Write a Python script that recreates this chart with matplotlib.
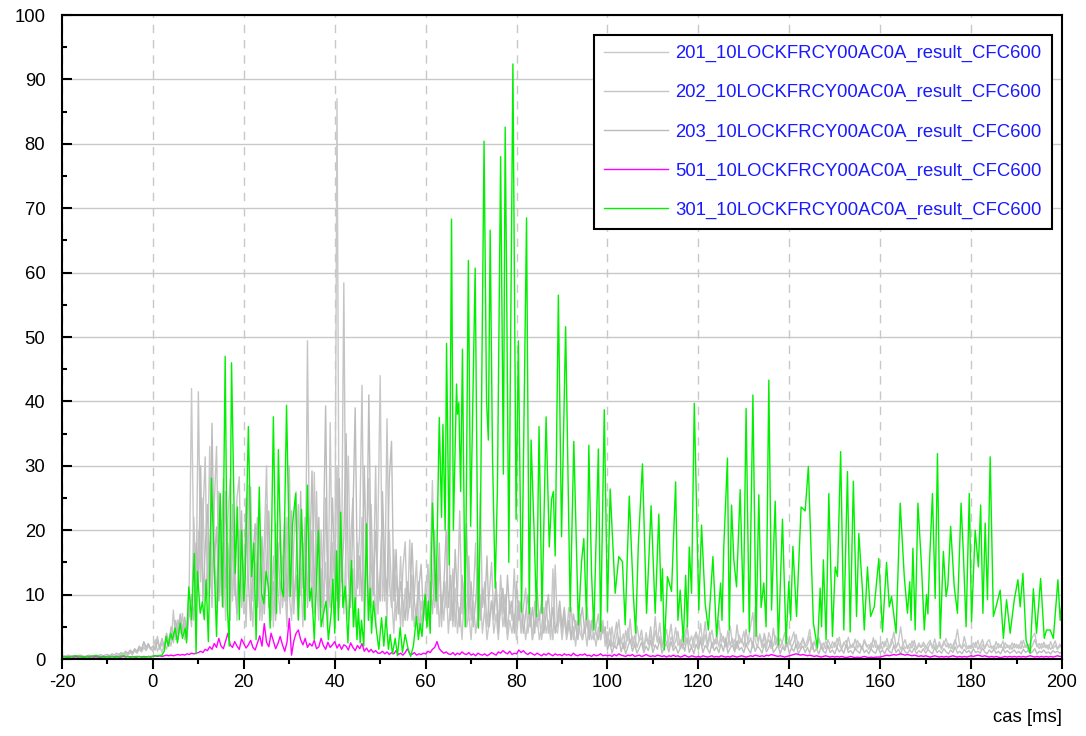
import numpy as np
import matplotlib
matplotlib.use("Agg")
import matplotlib.pyplot as plt
from matplotlib.ticker import MultipleLocator

plt.rcParams['font.family'] = ['Liberation Sans', 'DejaVu Sans']
plt.rcParams['axes.unicode_minus'] = False

# Sampled channels: start time and sampling step [ms]
T0, DT = -20.0, 0.5

ch201 = (
    [0.3,0.4,0.3,0.3,0.4,0.3,0.4,0.3,0.3,0.4,0.3,0.4,0.3,0.3,0.4,0.3,0.4,0.3,0.4,0.3] +
    [0.4,0.3,0.5,0.4,0.6,0.5,0.8,0.6,1.0,0.7,1.2,0.8,1.5,1.0,1.8,1.2,2.5,1.4,2.0,1.5] +
    [1.5,3.0,1.2,2.0,1.0,2.5,1.5,3.0,2.0,7.6,3.0,6.1,4.0,7.1,3.0,5.0,12,42,15,8] +
    [20,12,25,9,14,33,12,18,8,26,10,18,6,22,28,9,16,6,20,12] +
    [7,18,27,10,5,15,9,20,6,12,24,8,15,5,21,11,7,16,9,22] +
    [10,6,18,26,8,14,5,17,10,22,8,29,12,6,20,9,15,5,36.7,10] +
    [6,87,10,20,7,18,31.5,9,14,5,18,10,22,6,16,28,8,14,5,20] +
    [44,9,15,6,20,10,4,13,8,15.9,5,11,7,18.5,6,10,15.3,4,9,6] +
    [12,5,14.7,27.7,8,13,5,10,6,12,4,9,5,11,4,8,3,10,5,7] +
    [3,9,4,7,10,4,8,3,6,9,4,7,3,10,5,8,3,6,4,7] +
    [3,9,5,7,3,6,8,3,5,7,3,5,8,4,6,3,14,5,4,7] +
    [3,6,4,8,3,5,2,6,4,3,5,2,6,3,4,2,5,3,6,2] +
    [4.2,2.1,5.0,1.8,3.6,6.1,2.4,3.9,1.7,4.8,2.6,3.5,1.9,5.2,2.8,3.3,1.6,4.1,2.2,3.8] +
    [1.9,4.4,2.7,5.6,2.0,3.1,4.6,1.8,3.4,2.5,4.9,2.1,3.0,1.6,3.9,5.3,2.3,3.6,1.8,4.2] +
    [2.7,5.5,2.0,3.8,1.7,3.2,4.5,2.2,3.6,1.9,4.0,2.6,3.3,1.8,5.1,2.4,3.0,1.6,3.7,2.5] +
    [4.3,1.9,3.1,5.2,7.2,2.8,1.8,3.9,2.5,3.4,1.7,4.1,2.9,2.0,3.6,1.8,3.2,2.4,1.6,3.5] +
    [2.2,3.0,4.2,1.8,2.7,1.5,3.3,2.1,2.9,4.6,1.9,2.5,1.6,3.1,2.3,1.4,2.8,2.0,1.6,2.7] +
    [1.8,3.2,2.2,1.5,2.6,1.9,3.4,1.7,2.4,1.4,2.9,2.0,1.6,3.0,2.2,1.5,2.5,1.8,2.9,1.6] +
    [2.3,1.5,2.7,2.0,1.6,3.1,2.2,1.7,2.6,5.0,2.4,1.6,2.1,1.5,2.8,2.0,1.6,2.5,1.8,2.2] +
    [1.5,2.4,2.9,1.6,2.2,1.5,2.7,1.8,2.3,3.2,1.7,2.4,1.5,2.6,4.6,2.0,1.6,2.3,1.5,2.1] +
    [1.6,2.5,1.8,2.9,1.5,2.2,1.7,2.6,3.0,1.6,2.1,1.5,2.4,1.8,2.8,1.6,2.2,1.5,2.5,1.7] +
    [2.3,1.6,2.8,1.7,2.2,1.5,2.5,3.4,4.0,2.1,1.6,2.4,1.8,2.2,1.5,2.7,1.6,2.1,1.5,2.3] +
    [1.8]
)

ch202 = (
    [0.2,0.3,0.2,0.3,0.2,0.3,0.2,0.2,0.3,0.2,0.3,0.2,0.3,0.2,0.3,0.3,0.2,0.3,0.2,0.3] +
    [0.3,0.2,0.4,0.3,0.5,0.4,0.6,0.5,0.8,0.6,1.0,0.7,1.3,0.9,1.5,1.1,1.8,1.3,2.2,1.6] +
    [1.2,2.0,3.5,1.5,2.5,1.5,3.0,2.0,4.0,2.5,5.0,3.0,6.0,4.0,5.5,3.0,8,5,22,10] +
    [41.5,14,22,31.4,10,18,8,24,33,12,21.6,8,26,14,6,19,10,25,28.3,8] +
    [14,5,19,26.7,9,17,22,6,12,18,30,10,6,16,9,14,20,8,12,5] +
    [30,12,7,15,24,10,18,6,49.4,12,20,7,26,9,14,5,25,12,8,18] +
    [11,30,8,14,58.4,10,6,18,25,8,13,20,42.5,9,15,6,24,10,30,7] +
    [14,22,9,37.3,12,8,17,6,11,5,14,18.2,6,9,13,5,8,12,5,9] +
    [6,14.7,8,12,20,7,15,5,12,8,23,6,14,5,10,23,7,12,5,16] +
    [6,10,18,5,25.8,8,12,5,10,15,6,11,5,13,7,10,4,9,6,14] +
    [5,9,4,8,11,4,7,3,9,5,7,3,6,9,4,6,3,14.6,5,8] +
    [4,7,3,5,8,3,6,4,7,3,5,8,4,6,3,5,7,3,5,4] +
    [2.5,4.8,1.9,3.3,5.7,2.2,3.0,1.6,4.4,2.8,6.2,2.0,3.7,1.8,2.9,4.5,1.7,3.2,2.4,5.0] +
    [2.1,6.6,2.6,3.5,1.7,4.0,2.3,3.1,5.4,1.9,2.8,4.3,1.6,3.6,2.2,5.1,2.5,1.8,3.3,4.1] +
    [1.8,3.4,2.5,5.8,2.0,4.2,1.7,3.0,2.3,6.0,2.6,3.5,1.9,4.4,2.1,3.2,1.6,5.3,2.4,3.1] +
    [1.9,4.6,2.2,3.3,1.7,8.0,2.8,3.6,1.8,4.0,2.5,3.0,1.6,4.8,2.2,3.3,1.8,2.7,4.1,1.9] +
    [3.2,1.7,2.6,3.8,1.6,2.4,3.1,1.8,2.2,3.5,1.5,2.8,2.0,3.3,1.7,2.5,1.6,3.0,2.1,1.7] +
    [2.6,1.8,3.4,1.6,2.3,2.9,1.5,2.2,1.8,3.1,1.7,2.4,1.5,2.8,1.9,2.2,1.6,3.3,1.8,2.1] +
    [1.6,2.7,1.9,3.2,1.7,2.3,4.2,1.8,2.6,1.5,2.2,3.0,1.6,2.4,1.7,2.9,1.5,2.1,1.8,2.6] +
    [2.0,1.6,2.5,1.8,3.1,1.7,2.2,1.5,2.8,1.9,2.4,1.6,2.1,3.0,1.7,2.3,1.6,3.5,2.0,1.6] +
    [2.2,1.7,2.6,1.5,2.1,3.0,1.6,2.4,1.8,2.0,1.5,2.7,1.7,2.2,1.6,2.5,1.8,2.1,1.5,2.4] +
    [1.7,2.2,1.6,2.9,1.8,2.3,1.5,2.1,3.0,1.9,2.4,1.6,2.6,1.7,2.2,1.5,2.0,2.8,1.6,1.9] +
    [2.1]
)

ch203 = (
    [0.5,0.4,0.5,0.6,0.4,0.5,0.4,0.5,0.6,0.5,0.4,0.5,0.6,0.4,0.5,0.6,0.5,0.7,0.5,0.6] +
    [0.7,0.5,0.8,0.6,0.9,0.7,1.0,0.8,1.2,0.9,1.4,1.0,1.6,1.2,2.0,1.5,2.7,1.8,2.4,1.6] +
    [2.0,1.4,2.8,1.8,3.2,2.0,4.0,2.5,5.0,3.5,6.0,4.0,7.0,4.5,6.5,4.0,7.5,10,6,18] +
    [12,30,9,17,24,11,36.6,15,20.5,9,16,28,11,18,10,24,12,7,16,23] +
    [10,25,12,6,16,21,8,13,19,7,14,23,9,12,6,18,10,14,22,9] +
    [15,23,9,13,6,26,11,22,8,15,29.2,11,17,22,8,18,39.3,9,13,25] +
    [14,9,28,12,19,35,13,8,22,39,11,16,9,30,13,41,15,10,20,12] +
    [9,26,14,10,28,33.8,9,17,7,12,9,6,12,8,18,9,6,11,14.7,7] +
    [10,6,12,7,14,9,18,7,11,20,8,13,6,17,9,5,13,8,21,7] +
    [12,5,9,14,6,11,8,16,5,9,7,12,4,8,11,5,13,7,9,4] +
    [12,6,9,4,7,10,5,8,4,11,6,9,4,7,10,5,8,4,6,9] +
    [5,8,4,6,3,7,5,3,6,8,4,6,3,5,7,4,3,6,4,5] +
    [1.4,2.8,0.9,2.2,1.6,3.4,1.1,2.5,0.8,1.9,3.0,1.2,2.3,0.9,1.7,2.6,1.0,2.0,1.3,2.9] +
    [1.0,2.2,1.5,3.1,0.9,1.8,2.4,1.1,2.7,1.3,2.0,0.9,1.6,2.5,1.2,3.3,1.0,1.9,0.8,2.3] +
    [1.4,2.9,1.0,2.1,1.6,0.9,2.6,1.3,1.9,1.0,2.4,1.2,3.0,0.9,1.7,2.2,1.1,2.8,1.4,1.8] +
    [1.0,2.3,1.5,0.9,2.7,1.2,2.0,1.6,0.9,2.4,1.1,1.8,2.9,1.0,1.5,2.2,0.8,1.9,1.3,2.6] +
    [0.9,1.7,1.2,2.3,0.8,1.5,2.0,1.0,1.8,0.9,2.5,1.1,1.6,0.8,1.9,1.2,0.9,2.1,1.0,1.4] +
    [0.8,1.8,1.1,1.5,0.9,2.2,1.0,1.3,0.8,1.7,1.2,0.9,2.0,1.0,1.4,0.8,1.6,1.1,0.9,1.9] +
    [1.0,1.4,0.8,1.7,1.2,0.9,2.1,1.0,1.5,0.8,1.8,1.1,0.9,1.4,1.0,1.7,0.8,1.3,1.0,1.6] +
    [0.9,1.5,1.1,0.8,1.8,1.0,1.3,0.9,1.6,1.1,0.8,1.4,1.0,1.9,0.9,1.2,0.8,1.5,1.0,1.3] +
    [0.8,1.6,1.0,1.2,0.9,1.7,1.1,0.8,1.4,1.0,1.5,0.9,1.2,0.8,1.6,1.0,1.3,0.9,1.1,1.4] +
    [0.9,1.2,0.8,1.5,1.0,1.3,0.9,1.1,1.6,0.8,1.2,1.0,1.4,0.9,1.1,0.8,1.3,1.0,1.2,0.9] +
    [1.1]
)

ch501 = (
    [0.3,0.4,0.3,0.3,0.4,0.3,0.4,0.3,0.4,0.3,0.3,0.4,0.3,0.4,0.3,0.4,0.3,0.3,0.4,0.3] +
    [0.4,0.3,0.4,0.3,0.4,0.3,0.3,0.4,0.3,0.4,0.3,0.4,0.3,0.3,0.4,0.3,0.4,0.3,0.4,0.3] +
    [0.4,0.5,0.4,0.5,0.4,0.5,0.6,0.5,0.6,0.5,0.6,0.7,0.6,0.7,0.6,0.8,0.7,0.9,0.8,0.9] +
    [1.0,1.2,1.0,1.5,1.3,1.9,1.5,2.4,1.8,3.2,2.0,1.6,2.8,4.0,2.2,1.8,2.7,2.0,1.5,3.1] +
    [2.4,1.7,2.2,2.9,1.8,1.4,2.5,3.6,2.0,5.5,2.6,1.9,4.0,2.8,1.6,2.4,3.5,2.2,1.2,2.6] +
    [6.3,0.6,2.8,4.0,4.5,3.0,2.2,3.2,1.8,2.4,2.0,2.9,1.6,1.9,3.2,2.1,1.5,2.6,1.8,2.2] +
    [2.7,1.7,2.3,1.5,2.2,2.0,1.4,2.5,1.8,1.3,2.1,1.6,2.4,1.2,1.7,1.1,1.5,1.0,1.3,0.9] +
    [0.9,1.2,0.8,1.1,0.7,1.0,0.8,1.3,0.7,0.9,0.6,1.0,1.6,0.8,0.7,1.0,0.6,0.8,0.7,0.9] +
    [0.8,1.2,1.0,1.5,1.8,2.7,1.6,1.2,0.9,1.1,0.8,0.7,1.0,0.6,0.9,0.7,1.1,0.8,0.7,1.0] +
    [0.6,0.8,0.5,0.9,0.7,0.6,0.8,0.5,0.7,1.0,0.8,0.6,1.1,0.9,1.3,1.0,0.8,1.2,0.7,0.9] +
    [0.8,1.4,1.0,1.3,0.9,0.7,1.0,0.8,0.6,0.9,0.7,0.5,0.8,0.6,0.9,0.7,0.5,0.8,0.6,0.7] +
    [0.5,0.8,0.6,0.7,0.5,0.9,0.6,0.5,0.7,0.6,0.8,0.5,0.6,0.4,0.7,0.5,0.6,0.8,0.5,0.6] +
    [0.5,0.6,0.4,0.7,0.5,0.8,0.6,0.5,0.4,0.6,0.5,0.7,0.4,0.5,0.6,0.4,0.5,0.7,0.5,0.4] +
    [0.5,0.4,0.6,0.5,0.4,0.5,0.3,0.5,0.4,0.6,0.4,0.5,0.3,0.4,0.6,0.4,0.3,0.5,0.4,0.3] +
    [0.4,0.3,0.5,0.4,0.3,0.4,0.5,0.3,0.4,0.3,0.5,0.4,0.3,0.4,0.3,0.5,0.4,0.3,0.4,0.5] +
    [0.4,0.3,0.4,0.5,0.4,0.6,0.5,0.4,0.5,0.4,0.6,0.5,0.7,0.6,0.5,0.4,0.5,0.4,0.3,0.4] +
    [0.5,0.6,0.7,0.8,0.7,0.6,0.7,0.6,0.5,0.6,0.5,0.4,0.5,0.4,0.3,0.4,0.5,0.4,0.3,0.4] +
    [0.3,0.4,0.3,0.4,0.3,0.2,0.3,0.4,0.3,0.2,0.3,0.2,0.3,0.4,0.3,0.2,0.3,0.2,0.3,0.3] +
    [0.3,0.4,0.5,0.6,0.5,0.6,0.7,0.6,0.7,0.8,0.7,0.6,0.7,0.6,0.5,0.6,0.5,0.4,0.5,0.4] +
    [0.5,0.4,0.3,0.4,0.5,0.4,0.3,0.4,0.3,0.4,0.3,0.4,0.5,0.4,0.3,0.4,0.3,0.4,0.3,0.4] +
    [0.5,0.4,0.5,0.6,0.5,0.4,0.5,0.4,0.3,0.4,0.3,0.4,0.3,0.2,0.3,0.4,0.3,0.4,0.3,0.4] +
    [0.3,0.4,0.3,0.4,0.3,0.4,0.5,0.4,0.3,0.4,0.3,0.4,0.3,0.4,0.3,0.4,0.3,0.4,0.5,0.4] +
    [0.4]
)

# Channel 301 is stored as its turning points (time [ms], value)
ch301_t = [
    -20,-18.5,-17,-15.5,-14,-12.5,-11,-9.5,-8,-6.5,-5,-3.5,-2,-0.5,1,2,2.5,2.9,3.4,3.9,
    4.3,4.9,5.4,6.0,6.5,7.1,7.4,7.9,8.5,9.1,9.5,9.8,10.4,10.9,11.3,11.7,12.2,12.9,13.3,14.0,
    14.8,15.3,15.9,16.4,16.8,17.3,18.1,18.6,19.0,19.5,20.0,20.3,21.0,21.7,22.2,22.7,23.4,23.9,24.4,24.9,
    25.4,25.8,26.5,27.2,27.6,28.3,28.7,29.4,30.2,30.7,31.4,32.0,32.7,33.4,34.0,34.5,34.9,35.5,36.4,37.0,
    37.4,38.1,38.6,39.2,39.6,40.0,40.4,40.8,41.3,41.8,42.3,42.9,43.7,44.1,44.5,44.9,45.2,45.6,45.9,46.4,
    47.0,47.4,47.8,48.1,48.5,49.2,49.7,50.3,50.8,51.3,51.8,52.2,52.7,53.3,53.8,54.4,54.9,55.5,56.2,56.7,
    57.3,58.0,58.4,58.8,59.2,59.5,59.9,60.3,60.6,61.0,61.5,62.3,63.0,63.5,63.8,64.3,64.6,65.2,65.7,66.1,
    66.8,67.0,67.3,67.7,68.1,68.7,69.4,69.9,70.3,70.9,71.6,72.1,72.85,73.4,73.8,74.2,74.7,75.3,75.8,76.5,
    77.1,77.5,77.8,78.3,79.2,79.9,80.4,81.1,82.2,82.8,83.2,83.85,84.4,84.95,85.6,86.5,87.2,87.7,88.1,88.5,
    89.2,89.9,90.8,91.8,92.6,93.6,94.3,94.8,95.4,95.9,96.5,97.0,98.0,98.5,99.3,100.0,100.6,101.7,102.5,103.3,
    103.9,104.8,105.7,106.2,106.8,107.7,108.6,109.6,110.5,111.3,111.8,112.1,112.5,113.2,114.1,115.0,115.5,116.0,116.7,117.2,
    117.6,118.0,118.5,119.1,120.1,120.7,
    121.5,122.2,123.2,124.0,124.9,125.2,125.6,126.4,126.8,127.3,127.8,128.4,129.2,129.9,130.5,131.2,132.0,132.7,133.3,133.8,
    134.4,134.9,135.5,
    136.1,136.9,137.6,138.5,139.3,139.9,140.3,140.8,141.6,142.6,143.5,144.2,145.3,146.2,146.8,147.1,147.5,148.1,148.7,149.5,
    150.1,150.6,151.3,152.0,
    152.8,153.4,154.1,154.8,155.3,156.1,156.5,157.2,157.9,158.7,159.7,160.5,161.4,162.0,162.5,163.5,164.4,165.3,166.0,166.5,
    166.8,167.2,
    167.7,168.3,169.1,169.7,170.2,170.5,170.8,171.5,172.1,172.6,173.2,173.9,174.5,174.9,175.5,176.3,177.0,177.8,178.3,178.9,
    179.6,180.1,
    180.9,181.6,182.1,182.6,183.1,183.6,184.2,184.9,185.6,186.4,187.1,187.8,188.6,189.5,190.3,190.8,191.4,192.1,193.0,193.7,
    194.4,195.3,196.1,196.6,197.4,198.1,199.1,199.6,200,
]
ch301_v = [
    0.4,0.3,0.5,0.3,0.4,0.5,0.3,0.4,0.3,0.5,0.3,0.4,0.3,0.4,0.5,0.6,1.2,3.5,2,4,
    3,4.8,2.5,5.6,3.2,4.8,2.5,11.2,6.1,16.4,0.8,13.6,7.1,8.9,6.1,12.3,2.7,28.1,18.5,3.5,
    25.7,8.1,47,7.6,2,46,13.3,23.6,6.1,20,9,12.5,36.1,12.8,18,3,26.7,10.2,8.6,13.6,
    11.2,4.8,37.6,7.1,32.5,11,9.7,39.4,9.7,20.8,25.7,6.1,23.2,6.1,27,9,11,3,20,5,
    6.6,9,3,7,12.4,4,16.8,6,22.8,8,11.3,2.5,15.3,5,9.5,3,7.8,2.5,6,2,
    21,6,11,4,9,4.3,1.5,6.4,2,6.6,1.5,3.8,0.8,3.2,0.5,4.9,1,3.8,1.4,0.4,
    2,6.6,3,5.5,3.5,6.6,10,5,9,4,24.2,9,37.5,22,36.4,20,49,14.6,68.3,20,
    42.7,38,39.8,26,48.1,5,61.9,20.6,36.6,60.7,4.8,24.2,80.4,40,34,66.6,32,11,26.8,78,
    28.7,82.6,60,15,92.4,21.7,49.4,7.3,68.5,7,34,20.1,6.6,36.1,7.1,37.6,17.4,24.8,26,16,
    56.5,19,51.6,7.4,33.8,5.3,15.1,18.7,6.1,33.2,13.3,4.5,32.6,4.3,38.7,7.4,26.4,10.2,15.9,15.1,
    5.3,25.3,9.9,4.0,17.8,30.3,7.1,23.8,7.1,22.5,9,14,1.4,12.8,10.5,27.5,6,10.7,2.7,13,
    5,17.4,10.2,39.7,7.6,20.8,
    8.6,4.5,15.9,3.5,11.8,6,17.5,31.2,4.5,23.9,15.4,11.2,26.3,7.3,38.9,4.2,41,3.5,25.5,8,
    11.8,5,43.3,
    7.6,24.5,2.2,21.7,2.4,12,6,17.5,6.6,23.6,23,29.9,5.6,1.7,11,5,15.4,3.0,25.7,3.5,
    14.3,12.8,32.2,4.5,
    29.1,4.2,27.6,6.6,19.5,10.7,4.5,14.3,6.6,8.1,15.6,4.2,15,8.1,9.7,4.0,24.2,12.8,7.1,12,
    6,17.2,
    4.5,24.2,14.3,4.5,10,7,14,25.7,9.4,31.9,3.2,16.7,9.7,11.5,20.6,11.2,7.1,24.2,16.4,5.0,
    25.7,5.8,
    20,14.3,23.9,7.1,21.1,9.2,31.4,6.6,8.4,10.7,3.2,9.2,4.0,9.2,12.3,8.1,13.3,2.9,0.9,10.9,
    4.0,12.5,3.2,4.5,4.5,3.2,12.3,6,9,
]

suffix = "_10LOCKFRCY00AC0A_result_CFC600"
series = [
    ("201", ch201, "#c8c8c8"),
    ("202", ch202, "#c4c4c4"),
    ("203", ch203, "#bcbcbc"),
    ("501", ch501, "#ff00ff"),
]


def sample_times(vals):
    return T0 + DT * np.arange(len(vals))


fig = plt.figure(figsize=(10.86, 7.36), dpi=100)
ax = fig.add_axes([62 / 1086, 77 / 736, 1000 / 1086, 644 / 736])

for code, vals, color in series:
    ax.plot(sample_times(vals), vals, color=color, lw=1.0, label=code + suffix)
ax.plot(ch301_t, ch301_v, color="#00f000", lw=1.0, label="301" + suffix)

ax.set_xlim(-20, 200)
ax.set_ylim(0, 100)
ax.xaxis.set_major_locator(MultipleLocator(20))
ax.xaxis.set_minor_locator(MultipleLocator(10))
ax.yaxis.set_major_locator(MultipleLocator(10))
ax.yaxis.set_minor_locator(MultipleLocator(5))

ax.set_axisbelow(True)
ax.yaxis.grid(True, which="major", color="#c8c8c8", lw=1.0, ls="-")
ax.xaxis.grid(True, which="major", color="#c8c8c8", lw=1.0, ls=(0, (6, 5)))

fs = 13.3
ax.tick_params(axis="y", which="major", direction="in", length=7, width=1.5,
               pad=12, labelsize=fs)
ax.tick_params(axis="y", which="minor", direction="in", length=3.5, width=1.5)
ax.tick_params(axis="x", which="major", direction="out", length=7, width=1.5,
               pad=4, labelsize=fs)
ax.tick_params(axis="x", which="minor", direction="out", length=3.5, width=1.5)
for sp in ax.spines.values():
    sp.set_linewidth(1.5)
    sp.set_color("black")

ax.set_xlabel("cas [ms]", loc="right", fontsize=fs, labelpad=13)

leg = ax.legend(loc="upper right", bbox_to_anchor=(0.9897, 0.969),
                fontsize=fs, labelcolor="#1a1aff", frameon=True, fancybox=False,
                edgecolor="black", framealpha=1, handlelength=3.46,
                handletextpad=0.38, labelspacing=1.19,
                borderpad=0.55, borderaxespad=0)
leg.get_frame().set_linewidth(1.5)

fig.savefig("out.png", dpi=100)
